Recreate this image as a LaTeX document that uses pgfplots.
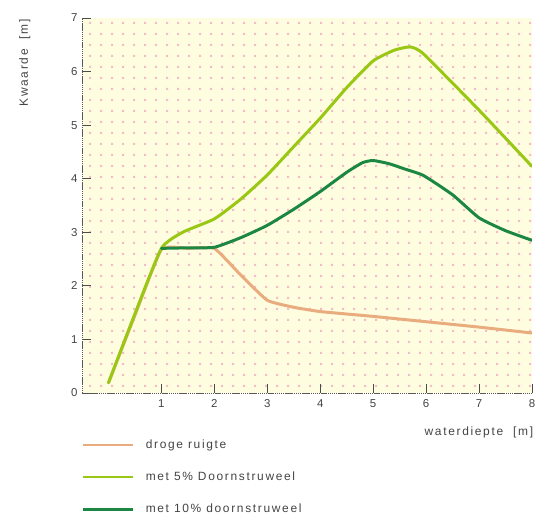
\documentclass[border=0pt]{standalone}
\usepackage{fontspec}
\setmainfont{Liberation Sans}[LetterSpace=14]
\usepackage{pgfplots}
\pgfplotsset{compat=1.18}
\usetikzlibrary{patterns.meta}
\definecolor{bgyellow}{HTML}{FFFDE0}
\definecolor{dotpink}{HTML}{F4BCC8}
\definecolor{cOrange}{HTML}{E9AC7E}
\definecolor{cLight}{HTML}{98C813}
\definecolor{cDark}{HTML}{1C8743}
\definecolor{txt}{HTML}{444444}
\tikzdeclarepattern{
  name=pinkdots,
  type=uncolored,
  tile size={(10.7bp,10.7bp)},
  bounding box={(0,0) and (10.7bp,10.7bp)},
  code={\fill (4.3bp,4.3bp) rectangle (6.4bp,6.4bp);}
}
\begin{document}
\begin{tikzpicture}
\begin{axis}[
  at={(0,0)}, anchor=south west,
  scale only axis, width=450bp, height=375bp,
  xmin=-0.5, xmax=8, ymin=0, ymax=7,
  axis x line=bottom, axis y line=left,
  axis line style={-, draw=gray!70!black, line width=0.9pt, dash pattern=on 1.3pt off 0.6pt},
  axis background/.style={fill=bgyellow, postaction={pattern={pinkdots}, pattern color=dotpink}},
  xtick={1,...,8}, ytick={0,...,7},
  tick align=inside, major tick length=9bp,
  tick style={draw=gray!60!black, line width=0.9pt},
  tick label style={font=\fontsize{11.5}{13}\selectfont, text=txt},
  /pgf/number format/assume math mode=true,
  xticklabel style={yshift=-3bp},
  yticklabel style={xshift=-1bp},
  xlabel={waterdiepte~~[m]},
  xlabel style={at={(axis description cs:1.003,-0.104)}, anchor=east, font=\fontsize{12}{14}\selectfont, text=txt, inner sep=0pt},
  ylabel={Kwaarde~~[m]},
  ylabel style={at={(axis description cs:-0.127,0.997)}, anchor=east, rotate=0, font=\fontsize{12}{14}\selectfont, text=txt, inner sep=0pt},
  legend cell align=left,
  legend style={at={(axis description cs:0,-0.122)}, anchor=north west, draw=none, fill=none,
    font=\fontsize{12}{14}\selectfont, text=txt, row sep=20bp, inner sep=0pt,
    nodes={inner sep=1pt},
    /tikz/every odd column/.append style={column sep=10bp}},
  legend image code/.code={\draw[#1, line width=2.6pt, line cap=butt] (0bp,0bp) -- (50bp,0bp);},
  every axis plot/.append style={line width=3pt, line join=round, line cap=round},
  clip=true,
]
\addplot[cOrange, smooth, tension=0.25] coordinates {
 (0,0.19) (0.5,1.45) (1,2.68) (1.5,2.70) (2,2.70) (2.5,2.2) (3,1.73) (3.5,1.6) (4,1.52) (5,1.43) (6,1.33) (7,1.23) (8,1.12)};
\addlegendentry{droge ruigte}
\addplot[cLight, smooth, tension=0.3] coordinates {
 (0,0.19) (0.5,1.48) (1,2.7) (1.4,3.0) (2,3.25) (2.5,3.62) (3,4.07) (3.5,4.6) (4,5.13) (4.5,5.7) (5,6.2) (5.4,6.4) (5.7,6.46) (5.95,6.33) (7,5.28) (8,4.23)};
\addlegendentry{met 5\% Doornstruweel}
\addplot[cDark, smooth, tension=0.3] coordinates {
 (1,2.7) (1.5,2.71) (2,2.72) (2.5,2.9) (3,3.13) (3.5,3.43) (4,3.76) (4.5,4.12) (4.8,4.3) (5,4.34) (5.3,4.28) (5.6,4.18) (5.95,4.06) (6.5,3.7) (7,3.27) (7.5,3.03) (8,2.85)};
\addlegendentry{met 10\% doornstruweel}
\end{axis}
\pgfresetboundingbox
\useasboundingbox (-82bp,-126bp) rectangle (454bp,393bp);
\end{tikzpicture}
\end{document}
